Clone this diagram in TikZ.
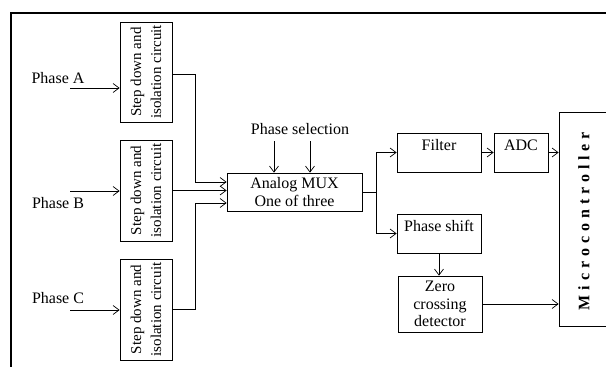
\documentclass[tikz,border=0pt]{standalone}
\usepackage{fontspec}
\setmainfont{Liberation Serif}
\newfontfamily\spacedfont[LetterSpace=31]{Liberation Serif}
\usetikzlibrary{arrows.meta}
\begin{document}
\begin{tikzpicture}[x=1pt,y=-1pt,
  blk/.style={draw, line width=0.7pt, inner sep=0pt},
  txt/.style={inner sep=0pt, font=\fontsize{16}{19}\selectfont},
  conn/.style={line width=0.7pt},
  arr/.style={line width=0.7pt, -{Straight Barb[length=6pt,width=9pt,line width=0.7pt]}},
  frame/.style={line width=2pt}]
\useasboundingbox (0,0) rectangle (606,367);
% outer frame
\coordinate (f1) at (10,13);
\coordinate (f2) at (610,13);
\coordinate (f3) at (11,13);
\coordinate (f4) at (11,370);
\draw[frame] (f1) -- (f2);
\draw[frame] (f3) -- (f4);
% step down boxes
\node[blk, rotate=90, minimum width=100pt, minimum height=52pt, align=center,
      font=\fontsize{15}{20}\selectfont] (sa) at (146,72) {Step down and\\isolation circuit};
\node[blk, rotate=90, minimum width=101pt, minimum height=52pt, align=center,
      font=\fontsize{15}{20}\selectfont] (sb) at (146,190.5) {Step down and\\isolation circuit};
\node[blk, rotate=90, minimum width=101pt, minimum height=52pt, align=center,
      font=\fontsize{15}{20}\selectfont] (sc) at (146,309.5) {Step down and\\isolation circuit};
% phase labels
\node[txt] (la) at (58,78) {Phase A};
\node[txt] (lb) at (58,203) {Phase B};
\node[txt] (lc) at (58,298) {Phase C};
\coordinate (pa) at (70,88);
\coordinate (pb) at (70,191);
\coordinate (pc) at (70,310);
\draw[arr] (pa) -- (pa -| sa.north);
\draw[arr] (pb) -- (pb -| sb.north);
\draw[arr] (pc) -- (pc -| sc.north);
% MUX
\node[blk, minimum width=135pt, minimum height=38pt, align=center,
      font=\fontsize{16}{18}\selectfont] (mux) at (294.5,192) {Analog MUX\\One of three};
\node[txt] (psel) at (300,129) {Phase selection};
\coordinate (ps1) at (274,141);
\coordinate (ps2) at (310,141);
\draw[arr] (ps1) -- (ps1 |- mux.north);
\draw[arr] (ps2) -- (ps2 |- mux.north);
% step down -> mux
\draw[arr] ([yshift=-2pt]sa.south) -- ++(23,0) |- ([yshift=10pt]mux.west);
\draw[arr] (sb.south) -- (sb.south -| mux.west);
\draw[arr] (sc.south) -- ++(23,0) |- ([yshift=-11pt]mux.west);
% filter, adc, phase shift, zero crossing
\node[blk, minimum width=84pt, minimum height=39pt] (filter) at (439,152.5) {};
\node[txt] (filtert) at (439,145) {Filter};
\node[blk, minimum width=54pt, minimum height=39pt] (adc) at (521,152.5) {};
\node[txt] (adct) at (521,145) {ADC};
\node[blk, minimum width=84pt, minimum height=39pt] (pshift) at (439,233.5) {};
\node[txt] (pshiftt) at (439,226) {Phase shift};
\node[blk, minimum width=84pt, minimum height=56pt, align=center,
      font=\fontsize{16}{17.5}\selectfont] (zero) at (440,304) {Zero\\crossing\\detector};
% microcontroller
\node[blk, minimum width=54pt, minimum height=214pt] (micro) at (586,219) {};
\node[inner sep=0pt, rotate=90, font=\spacedfont\bfseries\fontsize{16}{18}\selectfont] (microt) at (584,221) {Microcontroller};
% mux split
\coordinate (split) at (376,192);
\draw[conn] (mux.east) -- (split);
\draw[arr] (split) |- (filter.west);
\draw[arr] (split) |- (pshift.west);
\draw[arr] (filter.east) -- (adc.west);
\draw[arr] (adc.east) -- (adc.east -| micro.west);
\draw[arr] (pshift.south) -- (pshift.south |- zero.north);
\draw[arr] (zero.east) -- (zero.east -| micro.west);
\end{tikzpicture}
\end{document}
